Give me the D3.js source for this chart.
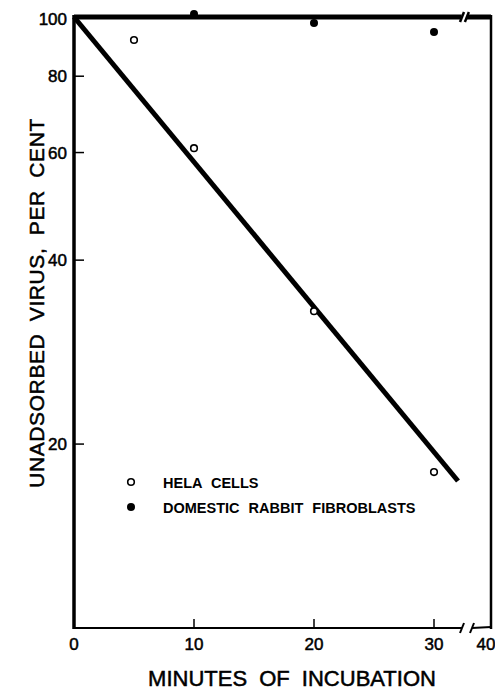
<!DOCTYPE html>
<html>
<head>
<meta charset="utf-8">
<script src="https://cdn.jsdelivr.net/npm/d3@7"></script>
<style>
  html, body { margin: 0; padding: 0; background: #fff; }
  svg { display: block; }
  text { font-family: "Liberation Sans", Arial, sans-serif; fill: #000; }
</style>
</head>
<body>
<svg id="chart" width="495" height="690"></svg>
<script>
// ---- data ----
const xTickValues = [0, 10, 20, 30, 40];
const xTickLabels = ["0", "10", "20", "30", "40"];
const yTickValues = [20, 40, 60, 80, 100];
const yTickLabels = ["20", "40", "60", "80", "100"];

const helaMinutes = [5, 10, 20, 30];
const helaPercent = [91.7, 61.0, 33.0, 18.0];

const fibroMinutes = [10, 20, 30];
const fibroPercent = [101.1, 97.8, 94.5];

const fitMinutes = [0, 32];
const fitPercent = [100, 17.4];

const fibroLineMinutes = [0, 32.3];
const fibroLinePercent = [100, 100];
const fibroLineTailMinutes = [33.3, 40];
const fibroLineTailPercent = [100, 100];

const legendLabels = ["HELA CELLS", "DOMESTIC RABBIT FIBROBLASTS"];
const xTitle = "MINUTES OF INCUBATION";
const yTitle = "UNADSORBED VIRUS, PER CENT";

// ---- layout ----
(function () {
const svg = d3.select("#chart");
const pL = 74, pR = 491, pT = 17, pB = 628;
const breakAt = 32.5;

const x = d3.scaleLinear().domain([0, breakAt, 40]).range([pL, 464, pR]);
const y = d3.scaleLog().domain([10, 100]).range([pB, pT]);

const g = svg.append("g");

const line = d3.line().x(d => x(d[0])).y(d => y(d[1]));
// regression line for HeLa
g.append("path")
  .datum(fitMinutes.map((m, i) => [m, fitPercent[i]]))
  .attr("d", line)
  .attr("fill", "none").attr("stroke", "#000").attr("stroke-width", 5);

// fibroblast line at 100% (thick top line with break)
g.append("path")
  .datum(fibroLineMinutes.map((m, i) => [m, fibroLinePercent[i]]))
  .attr("d", line)
  .attr("fill", "none").attr("stroke", "#000").attr("stroke-width", 5);
g.append("path")
  .datum(fibroLineTailMinutes.map((m, i) => [m, fibroLineTailPercent[i]]))
  .attr("d", line)
  .attr("fill", "none").attr("stroke", "#000").attr("stroke-width", 5);

// left axis (thick)
g.append("line").attr("x1", pL).attr("x2", pL).attr("y1", pT - 2).attr("y2", pB + 1)
  .attr("stroke", "#000").attr("stroke-width", 3.5);
// right axis
g.append("line").attr("x1", pR).attr("x2", pR).attr("y1", pT - 2).attr("y2", pB + 1)
  .attr("stroke", "#000").attr("stroke-width", 2.5);

// bottom axis with break
const bx1 = x(breakAt) - 2, bx2 = x(breakAt) + 8;
g.append("line").attr("x1", pL).attr("x2", bx1).attr("y1", pB).attr("y2", pB)
  .attr("stroke", "#000").attr("stroke-width", 2);
g.append("line").attr("x1", bx2).attr("x2", pR).attr("y1", pB).attr("y2", pB - 1)
  .attr("stroke", "#000").attr("stroke-width", 2);
[bx1, bx2].forEach(bx => {
  g.append("line").attr("x1", bx - 2).attr("x2", bx + 2).attr("y1", pB + 5).attr("y2", pB - 5)
    .attr("stroke", "#000").attr("stroke-width", 2);
});
// top break slashes
[x(breakAt) - 2, x(33.3)].forEach(bx => {
  g.append("line").attr("x1", bx - 2).attr("x2", bx + 2).attr("y1", pT + 5).attr("y2", pT - 5)
    .attr("stroke", "#000").attr("stroke-width", 2.5);
});

// x ticks (inward, upward)
g.selectAll(".xt").data(xTickValues.filter(v => v > 0 && v < 40)).enter().append("line")
  .attr("x1", d => x(d)).attr("x2", d => x(d))
  .attr("y1", pB).attr("y2", pB - 9)
  .attr("stroke", "#000").attr("stroke-width", 1.5);
g.selectAll(".xl").data(xTickValues).enter().append("text")
  .attr("x", d => x(d) - (d === 40 ? 5 : 0)).attr("y", 650)
  .attr("text-anchor", "middle")
  .attr("font-size", 17)
  .attr("stroke", "#000").attr("stroke-width", 0.5)
  .text((d, i) => xTickLabels[i]);

// y ticks (inward)
g.selectAll(".yt").data(yTickValues.filter(v => v < 100)).enter().append("line")
  .attr("x1", pL).attr("x2", pL + 10)
  .attr("y1", d => y(d)).attr("y2", d => y(d))
  .attr("stroke", "#000").attr("stroke-width", 1.5);
g.selectAll(".yl").data(yTickValues).enter().append("text")
  .attr("x", 67).attr("y", d => y(d) + 6 + (d === 100 ? 2 : 0))
  .attr("text-anchor", "end")
  .attr("font-size", 17)
  .attr("stroke", "#000").attr("stroke-width", 0.5)
  .text((d, i) => yTickLabels[i]);

// HeLa points (open circles)
g.selectAll(".hela").data(helaMinutes).enter().append("circle")
  .attr("cx", d => x(d)).attr("cy", (d, i) => y(helaPercent[i]))
  .attr("r", 3.3).attr("fill", "#fff").attr("stroke", "#000").attr("stroke-width", 1.6);

// fibroblast points (filled)
g.selectAll(".fib").data(fibroMinutes).enter().append("circle")
  .attr("cx", d => x(d)).attr("cy", (d, i) => y(fibroPercent[i]))
  .attr("r", 4).attr("fill", "#000");

// legend
const legY = [482, 507];
g.append("circle").attr("cx", 131).attr("cy", legY[0]).attr("r", 3.3)
  .attr("fill", "#fff").attr("stroke", "#000").attr("stroke-width", 1.6);
g.append("circle").attr("cx", 131).attr("cy", legY[1]).attr("r", 4).attr("fill", "#000");
legendLabels.forEach((t, i) => {
  g.append("text").attr("x", 163).attr("y", legY[i] + 5.5)
    .attr("font-size", 14.5).attr("font-weight", "bold")
    .attr("word-spacing", 5)
    .text(t);
});

// axis titles
g.append("text").attr("x", 292).attr("y", 686)
  .attr("text-anchor", "middle").attr("font-size", 22)
  .attr("word-spacing", 6)
  .attr("stroke", "#000").attr("stroke-width", 0.5)
  .text(xTitle);
g.append("text")
  .attr("transform", "translate(44,303) rotate(-90)")
  .attr("text-anchor", "middle").attr("font-size", 21)
  .attr("letter-spacing", 0.6)
  .attr("word-spacing", 6)
  .attr("stroke", "#000").attr("stroke-width", 0.5)
  .text(yTitle);
})();
</script>
</body>
</html>
